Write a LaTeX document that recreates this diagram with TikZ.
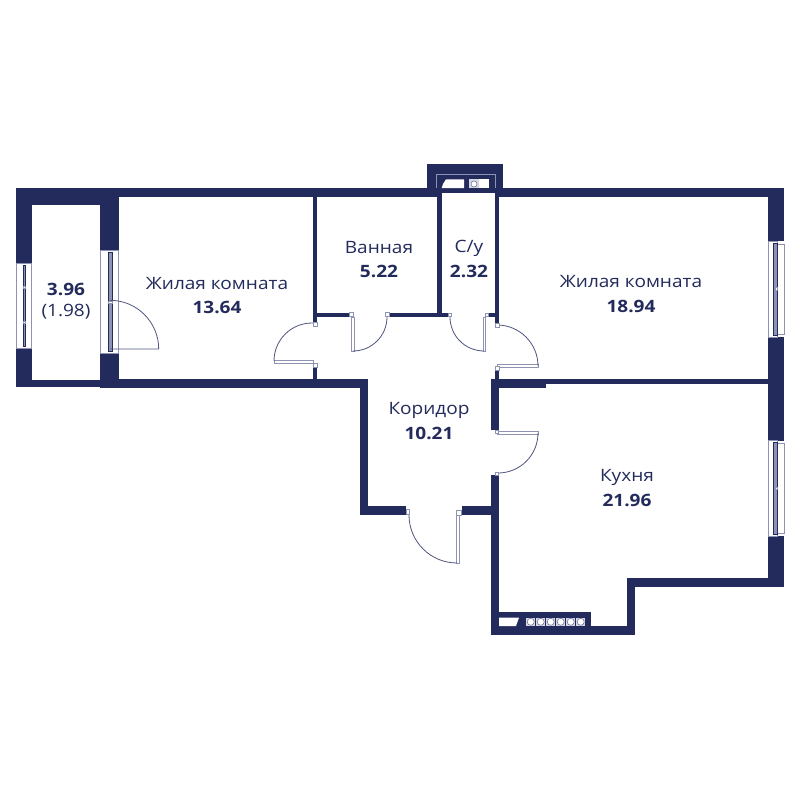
\documentclass[tikz,border=0pt]{standalone}
\usepackage{fontspec}
\setmainfont[FakeStretch=1.12]{Open Sans}
\definecolor{navy}{HTML}{232B5C}
\definecolor{pale}{HTML}{8F93B3}
\definecolor{palefill}{HTML}{D5D7E4}
\tikzset{
  wall/.style={fill=navy,draw=none},
  winframe/.style={fill=white,draw=pale,line width=0.7pt},
  winbar/.style={fill=pale,draw=navy,line width=0.4pt},
  barstop/.style={fill=white,draw=pale,line width=0.4pt},
  leaf/.style={fill=white,draw=pale,line width=0.8pt},
  swing/.style={draw=navy!80!white,line width=0.8pt},
  hinge/.style={fill=white,draw=pale,line width=0.5pt},
  niche/.style={fill=white,draw=none},
  thinframe/.style={draw=pale,line width=0.9pt},
  cell/.style={fill=palefill,draw=none},
  ring/.style={fill=white,draw=navy!70!white,line width=0.5pt},
  lbl/.style={text=navy,font=\fontsize{17}{20}\selectfont,inner sep=0pt,anchor=center},
  num/.style={text=navy,font=\fontsize{17}{20}\selectfont\bfseries,inner sep=0pt,anchor=center}
}
\begin{document}
\begin{tikzpicture}[x=1pt,y=-1pt]
\useasboundingbox (0,0) rectangle (800,800);
\fill[white] (0,0) rectangle (800,800);
% --- walls ---
\fill[wall] (16,188) rectangle (427.3,197);      % top wall left
\fill[wall] (503.3,188) rectangle (784,197);     % top wall right
\fill[wall] (427.3,164.3) rectangle (503.3,193); % shaft
\fill[wall] (427.3,193) rectangle (442,197);
\fill[wall] (495,193) rectangle (503.3,197);
\fill[wall] (16,188) rectangle (119,205);        % balcony top
\fill[wall] (16,188) rectangle (32,387);         % balcony left
\fill[wall] (16,380) rectangle (100,387);        % balcony bottom
\fill[wall] (100,188) rectangle (119,388);       % balcony/room wall
\fill[wall] (100,379) rectangle (368,388);       % room bottom
\fill[wall] (312.7,197) rectangle (317.3,325);
\fill[wall] (312.7,366) rectangle (317.3,380);
\fill[wall] (312.7,312.7) rectangle (351.7,317.3);
\fill[wall] (386.7,312.7) rectangle (449,317.3);
\fill[wall] (485,312.7) rectangle (499.3,317.3);
\fill[wall] (437,193) rectangle (442,317);
\fill[wall] (495,193) rectangle (499.3,325);
\fill[wall] (495,366) rectangle (499.3,380);
\fill[wall] (490.7,379) rectangle (499.3,430);
\fill[wall] (490.7,379) rectangle (546,388);
\fill[wall] (499,379) rectangle (768,384);
\fill[wall] (360,379) rectangle (368,515);
\fill[wall] (360,506) rectangle (406,515);
\fill[wall] (461.7,506) rectangle (499,515);
\fill[wall] (490.7,475) rectangle (499,635);
\fill[wall] (490.7,626) rectangle (635,635);
\fill[wall] (490.7,612) rectangle (590.7,635);
\fill[wall] (626.7,578) rectangle (635,635);
\fill[wall] (626.7,578) rectangle (784,587);
\fill[wall] (767.7,188) rectangle (784,587);
% --- shaft detail ---
\draw[thinframe] (436,188) -- (436,174) -- (495,174) -- (495,188);
\fill[niche] (446,179.3) -- (464,179.3) -- (464,188) -- (441.7,188) -- (443,184) -- cycle;
\fill[cell] (469,179.3) rectangle (479,188);
\fill[niche] (479,179.3) rectangle (488.7,188);
\node[ring,circle,minimum size=6pt,inner sep=0pt] (shaftbowl) at (474,184) {};
% --- kitchen counter ---
\fill[niche] (499,617.7) -- (519,617.7) -- (516,626) -- (499,626) -- cycle;
\foreach \i in {0,1,...,5}{
  \fill[cell] ({526+10*\i},617.7) rectangle ({536+10*\i-0.6},626);
  \node[ring,circle,minimum size=7pt,inner sep=0pt] (burner\i) at ({530.7+10*\i},621.8) {};
}
% --- windows ---
\draw[winframe] (16.7,263) rectangle (31.5,348);
\draw[winbar] (23,265) rectangle (25.5,346);
\draw[barstop] (23,286.5) rectangle (25.5,288.5);
\draw[barstop] (23,321.5) rectangle (25.5,323.5);
\draw[winframe] (100.7,250) rectangle (118,353);
\draw[winbar] (108.5,252) rectangle (112,351);
\draw[barstop] (108.5,301) rectangle (112,303);
\fill[white] (768.7,241) rectangle (784,337);
\draw[winframe] (768.7,241) rectangle (777,337);
\draw[winframe] (777,244) rectangle (784,334);
\draw[winbar] (773.5,243) rectangle (777,335);
\draw[barstop] (775,287.5) rectangle (777,290);
\fill[white] (768.7,440.7) rectangle (784,536);
\draw[winframe] (768.7,440.7) rectangle (777,536);
\draw[winframe] (777,443.5) rectangle (784,533);
\draw[winbar] (773.5,442.5) rectangle (777,534);
\draw[barstop] (775,487) rectangle (777,489.5);
% --- doors ---
% balcony door
\draw[swing] (110,349) -- (158.7,349) arc[start angle=0,end angle=-90,radius=48.7];
% left room door
\fill[leaf] (274,360.5) rectangle (313,363.5);
\draw[swing] (274,361) arc[start angle=180,end angle=270,radius=38] -- (313,323);
\draw[hinge] (313,322) rectangle (317,326);
\draw[hinge] (313,363.5) rectangle (317,367.5);
% bath door
\draw[leaf] (351.7,317) rectangle (354,351);
\draw[swing] (353,351) arc[start angle=90,end angle=0,radius=34];
\draw[hinge] (349.5,312.7) rectangle (353,316.5);
\draw[hinge] (385.5,312.7) rectangle (389,316.5);
% wc door
\draw[leaf] (483.3,317) rectangle (485.6,351);
\draw[swing] (484,351) arc[start angle=90,end angle=180,radius=34];
\draw[hinge] (448,313) rectangle (451.5,316.5);
\draw[hinge] (485,313) rectangle (488.5,316.5);
% right room door
\fill[leaf] (497,364.5) rectangle (538,367.5);
\draw[swing] (497,325) arc[start angle=270,end angle=360,radius=41];
\draw[hinge] (495,323) rectangle (499,327);
\draw[hinge] (495,366) rectangle (499,370);
% kitchen door
\draw[leaf] (497,431.8) rectangle (538,434.6);
\draw[swing] (538,433) arc[start angle=0,end angle=90,radius=40] -- (496,473);
\draw[hinge] (495,430) rectangle (498.5,433.5);
\draw[hinge] (495,472) rectangle (498.5,475.5);
% entrance door
\draw[leaf] (456,515) rectangle (459,563);
\draw[swing] (457,563) arc[start angle=90,end angle=180,radius=48];
\draw[hinge] (406,509) rectangle (409.5,514.5);
\draw[hinge] (456,510) rectangle (461.5,515);
% --- labels ---
\node[lbl] (room1) at (217,284) {Жилая комната};
\node[num] (room1a) at (217,307) {13.64};
\node[lbl] (bath) at (379,248) {Ванная};
\node[num] (batha) at (379,271) {5.22};
\node[lbl] (wc) at (469,248) {С/у};
\node[num] (wca) at (469,271) {2.32};
\node[lbl] (room2) at (631,282) {Жилая комната};
\node[num] (room2a) at (631,306) {18.94};
\node[lbl] (hall) at (429,410) {Коридор};
\node[num] (halla) at (429,433) {10.21};
\node[lbl] (kitchen) at (627,477) {Кухня};
\node[num] (kitchena) at (627,500) {21.96};
\node[num] (balc) at (66,289) {3.96};
\node[lbl] (balca) at (66,312) {(1.98)};
\end{tikzpicture}
\end{document}
